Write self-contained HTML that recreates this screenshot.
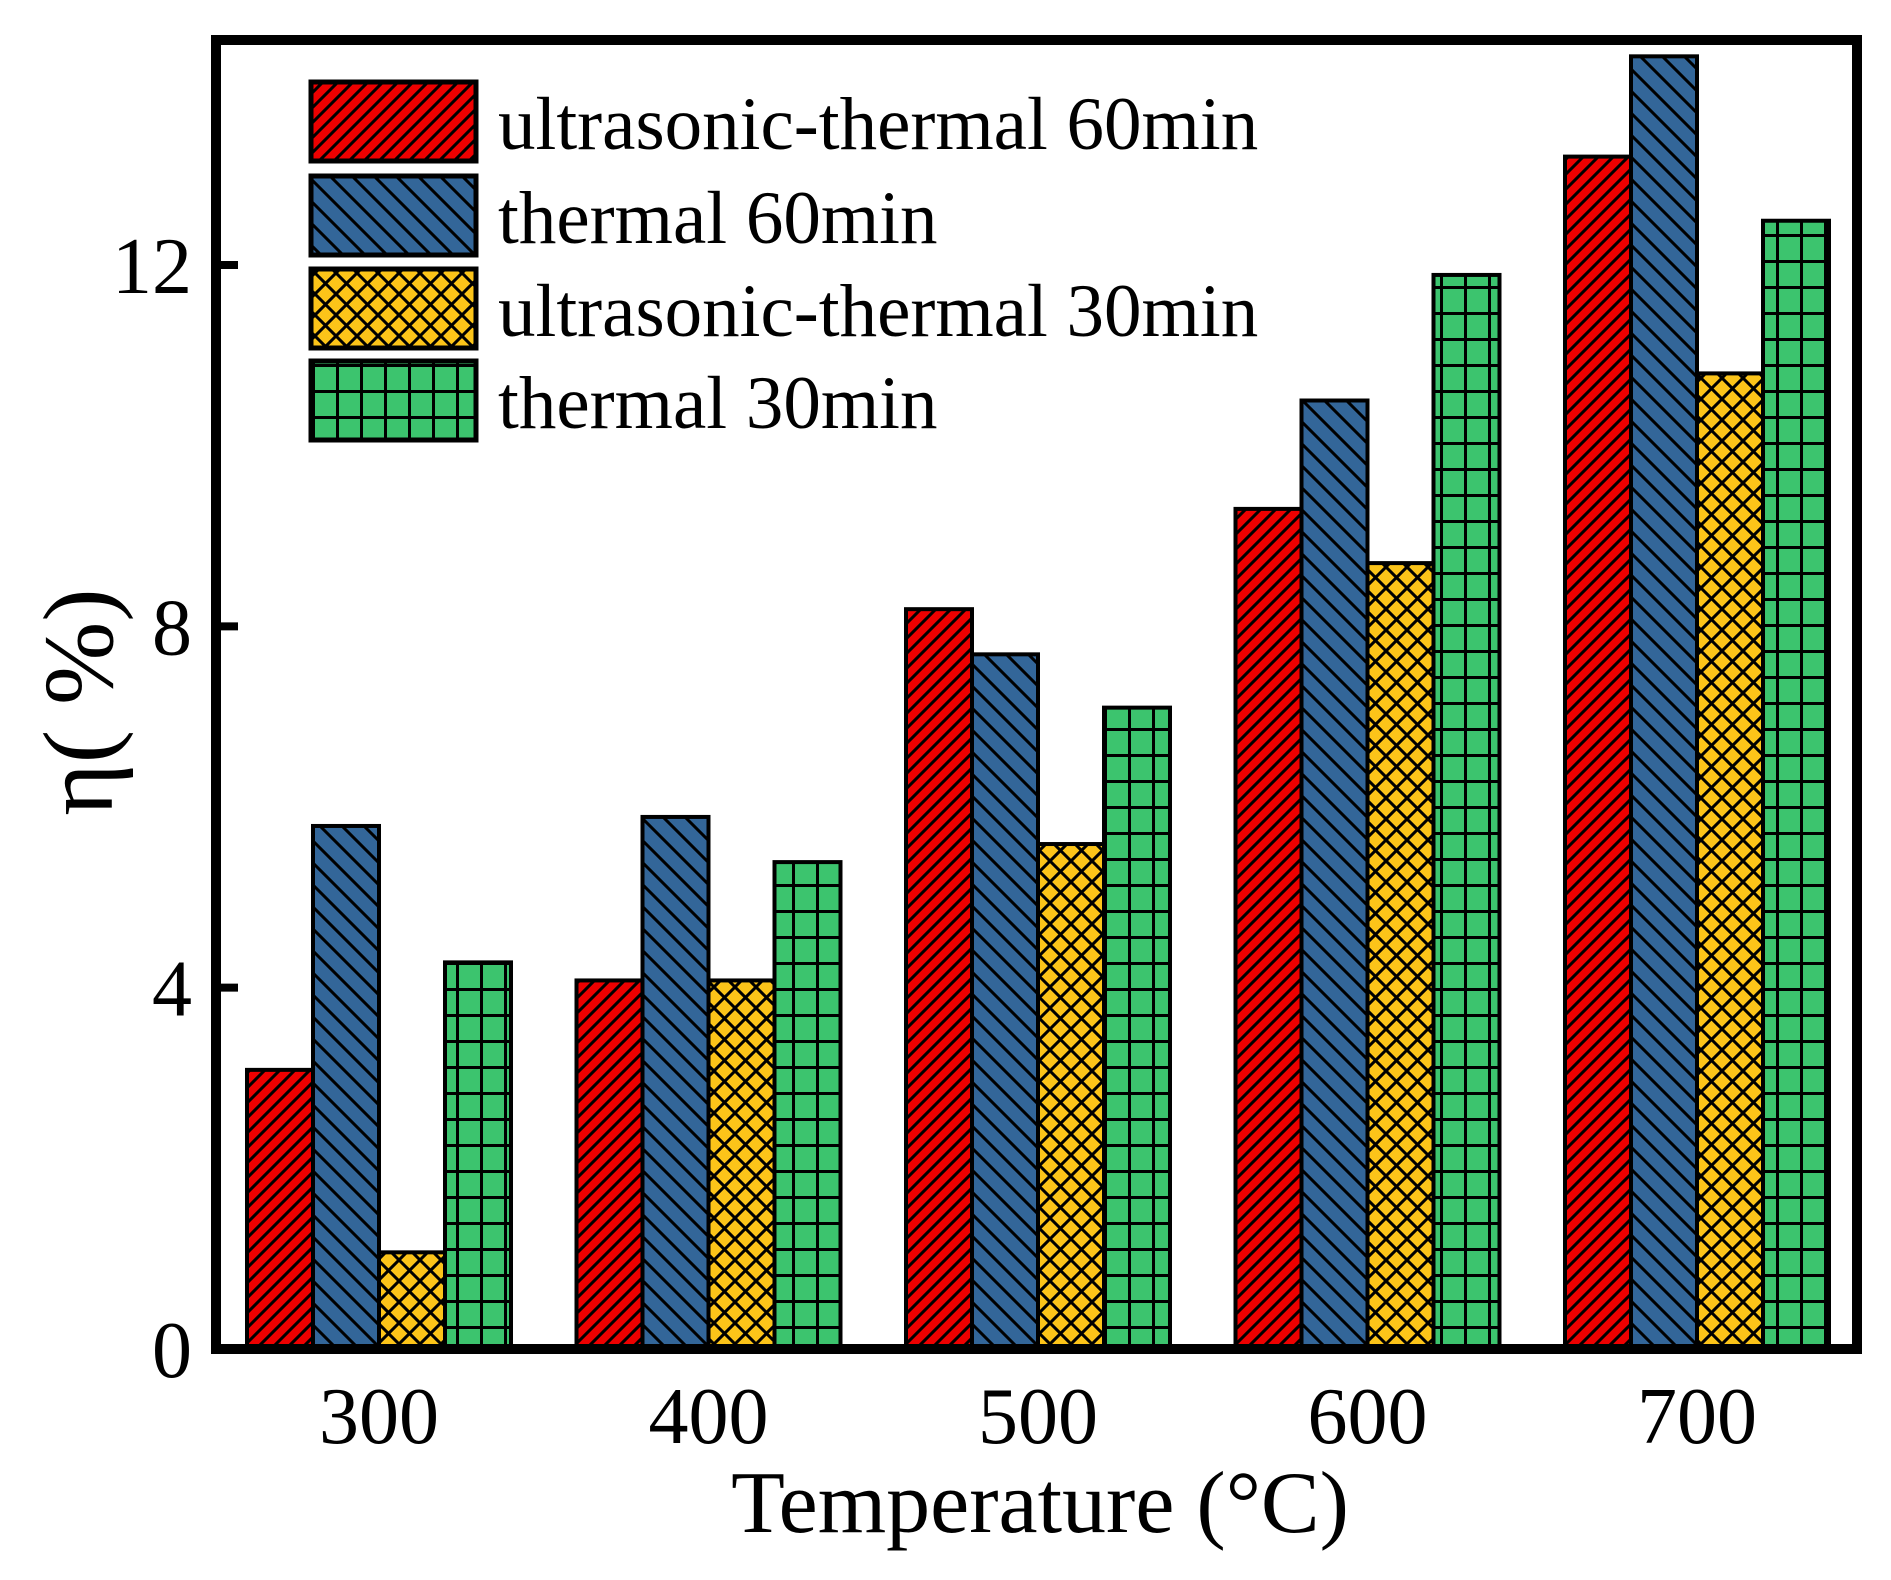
<!DOCTYPE html>
<html><head><meta charset="utf-8"><style>
html,body{margin:0;padding:0;background:#fff;}
svg{display:block;font-family:"Liberation Serif",serif;}
</style></head><body>
<svg id="chart" width="1891" height="1580" viewBox="0 0 1891 1580" xmlns="http://www.w3.org/2000/svg">
<defs>
<pattern id="p-red" patternUnits="userSpaceOnUse" width="15" height="15"><rect width="15" height="15" fill="#ee0000"/><path d="M-2,17 L17,-2 M-2,2 L2,-2 M13,17 L17,13" stroke="#000" stroke-width="3"/></pattern>
<pattern id="p-blue" patternUnits="userSpaceOnUse" width="22" height="22"><rect width="22" height="22" fill="#336699"/><path d="M-2,-2 L24,24 M-2,20 L2,24 M20,-2 L24,2" stroke="#000" stroke-width="3"/></pattern>
<pattern id="p-yellow" patternUnits="userSpaceOnUse" width="21" height="21"><rect width="21" height="21" fill="#fcc419"/><path d="M-2,-2 L23,23 M-2,23 L23,-2" stroke="#000" stroke-width="3"/></pattern>
<pattern id="p-green" patternUnits="userSpaceOnUse" width="24" height="26"><rect width="24" height="26" fill="#3cc46e"/><path d="M1.5,0 V26 M0,1.5 H24" stroke="#000" stroke-width="3"/></pattern>
</defs>
<g id="bars"></g>
<g id="axes"></g>
<g id="legend"></g>
</svg>
<script>
const categories = ["300","400","500","600","700"];
const seriesNames = ["ultrasonic-thermal 60min","thermal 60min","ultrasonic-thermal 30min","thermal 30min"];
const us60 = [3.09, 4.08, 8.19, 9.30, 13.20];
const th60 = [5.79, 5.89, 7.69, 10.50, 14.31];
const us30 = [1.07, 4.08, 5.59, 8.70, 10.80];
const th30 = [4.28, 5.39, 7.10, 11.89, 12.49];
const yTicks = [0, 4, 8, 12];

const NS = "http://www.w3.org/2000/svg";
const fills = ["url(#p-red)","url(#p-blue)","url(#p-yellow)","url(#p-green)"];
const seriesKeys = ["us60","th60","us30","th30"];
const allSeries = [us60, th60, us30, th30];
const X0 = 216, X1 = 1857, Y0 = 1349, Y12 = 265;
const pxPerUnit = (Y0 - Y12) / 12;
function yScale(v){ return Y0 - v * pxPerUnit; }
function xCenter(i){ return 379 + i * 329.5; }
const barW = 66;
function mk(tag, attrs, parent){ const e = document.createElementNS(NS, tag); for (const k in attrs) e.setAttribute(k, attrs[k]); parent.appendChild(e); return e; }

const barsG = document.getElementById("bars");
allSeries.forEach((vals, s) => {
  vals.forEach((v, i) => {
    const x = xCenter(i) - 2 * barW + s * barW;
    const r = mk("rect", {x: x, y: yScale(v), width: barW, height: Y0 - yScale(v), fill: fills[s], stroke: "#000", "stroke-width": 4}, barsG);
    
    
  });
});

const ax = document.getElementById("axes");
const frame = mk("path", {d: `M${X0},${Y0} V40 H${X1} V${Y0} H${X0-5}`, fill: "none", stroke: "#000", "stroke-width": 10}, ax);


yTicks.forEach(t => {
  const y = yScale(t);
  const tk = mk("line", {x1: X0, x2: X0 + 22, y1: y, y2: y, stroke: "#000", "stroke-width": 8}, ax);
  
  
  const lb = mk("text", {x: 192, y: y + 28, "text-anchor": "end", "font-size": 80}, ax);
  lb.textContent = t;
  
  
});
categories.forEach((c, i) => {
  const lb = mk("text", {x: xCenter(i), y: 1443, "text-anchor": "middle", "font-size": 80}, ax);
  lb.textContent = c;
  
  
});
const xt = mk("text", {x: 1040, y: 1532, "text-anchor": "middle", "font-size": 88}, ax);
xt.textContent = "Temperature (°C)";


const yt = mk("text", {x: 0, y: 0, "text-anchor": "middle", "font-size": 100, transform: "translate(112,702) rotate(-90)"}, ax);
yt.textContent = "η( %)";



const lg = document.getElementById("legend");
const rowTops = [82, 176, 269, 361];
seriesNames.forEach((n, s) => {
  const g = mk("g", {}, lg);
  
  
  mk("rect", {x: 311, y: rowTops[s], width: 165, height: 79, fill: fills[s], stroke: "#000", "stroke-width": 5}, g);
  const t = mk("text", {x: 498, y: rowTops[s] + 67, "font-size": 75}, g);
  t.textContent = n;
});
</script>
</body></html>
